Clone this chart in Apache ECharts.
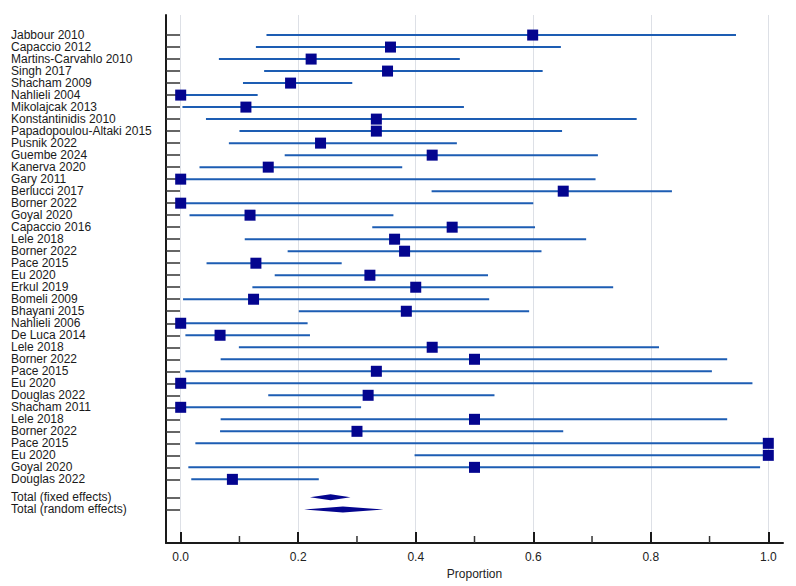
<!DOCTYPE html>
<html>
<head>
<meta charset="utf-8">
<script src="https://cdn.jsdelivr.net/npm/echarts@6/dist/echarts.min.js"></script>
<style>
  html, body { margin: 0; padding: 0; background: #fff; }
  #chart { width: 796px; height: 586px; }
</style>
</head>
<body>
<div id="chart"></div>
<script>
// Study rows, top to bottom
const studies = [
  'Jabbour 2010', 'Capaccio 2012', 'Martins-Carvahlo 2010', 'Singh 2017', 'Shacham 2009',
  'Nahlieli 2004', 'Mikolajcak 2013', 'Konstantinidis 2010', 'Papadopoulou-Altaki 2015', 'Pusnik 2022',
  'Guembe 2024', 'Kanerva 2020', 'Gary 2011', 'Berlucci 2017', 'Borner 2022',
  'Goyal 2020', 'Capaccio 2016', 'Lele 2018', 'Borner 2022', 'Pace 2015',
  'Eu 2020', 'Erkul 2019', 'Bomeli 2009', 'Bhayani 2015', 'Nahlieli 2006',
  'De Luca 2014', 'Lele 2018', 'Borner 2022', 'Pace 2015', 'Eu 2020',
  'Douglas 2022', 'Shacham 2011', 'Lele 2018', 'Borner 2022', 'Pace 2015',
  'Eu 2020', 'Goyal 2020', 'Douglas 2022'
];
const estimate = [
  0.599, 0.357, 0.222, 0.352, 0.187,
  0.0, 0.111, 0.333, 0.333, 0.238,
  0.428, 0.149, 0.0, 0.651, 0.0,
  0.118, 0.462, 0.364, 0.381, 0.128,
  0.322, 0.400, 0.124, 0.384, 0.0,
  0.067, 0.428, 0.500, 0.333, 0.0,
  0.319, 0.0, 0.500, 0.300, 1.0,
  1.0, 0.500, 0.088
];
const lower = [
  0.146, 0.128, 0.065, 0.142, 0.106,
  0.0, 0.003, 0.043, 0.100, 0.082,
  0.177, 0.032, 0.0, 0.427, 0.0,
  0.015, 0.326, 0.109, 0.182, 0.044,
  0.160, 0.122, 0.004, 0.201, 0.0,
  0.008, 0.099, 0.068, 0.008, 0.0,
  0.149, 0.0, 0.068, 0.067, 0.025,
  0.398, 0.013, 0.018
];
const upper = [
  0.945, 0.647, 0.475, 0.616, 0.292,
  0.131, 0.482, 0.776, 0.649, 0.470,
  0.710, 0.377, 0.706, 0.836, 0.600,
  0.362, 0.603, 0.690, 0.614, 0.274,
  0.523, 0.736, 0.525, 0.593, 0.216,
  0.220, 0.814, 0.930, 0.904, 0.973,
  0.534, 0.307, 0.930, 0.651, 1.0,
  1.0, 0.986, 0.235
];

// Pooled estimates
const pooledNames = ['Total (fixed effects)', 'Total (random effects)'];
const pooledEst = [0.255, 0.276];
const pooledLo = [0.220, 0.210];
const pooledHi = [0.289, 0.345];

// Axis ticks
const xTicks = [0, 0.2, 0.4, 0.6, 0.8, 1.0];
const xMinorTicks = [0.1, 0.3, 0.5, 0.7, 0.9];
const yMin = -1.67, yMax = 42.3;

// Row positions: pooled rows sit after a half-row gap
const studyPos = studies.map((_, i) => i);
const pooledPos = pooledNames.map((_, i) => studies.length + 0.5 + i);
const labelAt = {};
studyPos.forEach((p, i) => { labelAt[p] = studies[i]; });
pooledPos.forEach((p, i) => { labelAt[p] = pooledNames[i]; });
const yTickValues = studyPos.concat(pooledPos);

const chart = echarts.init(document.getElementById('chart'), null, { renderer: 'svg' });

const font = 'Arial, "Liberation Sans", sans-serif';

chart.setOption({
  animation: false,
  grid: { left: 166, right: 13, top: 15, bottom: 43, containLabel: false },
  xAxis: {
    type: 'value',
    min: -0.025,
    max: 1.025,
    position: 'bottom',
    name: 'Proportion',
    nameLocation: 'middle',
    nameGap: 25,
    nameTextStyle: { fontFamily: font, fontSize: 12, color: '#222' },
    axisLine: { show: true, onZero: false, lineStyle: { color: '#1a1a1a', width: 2 } },
    axisTick: { show: true, inside: true, length: 11, customValues: xTicks,
                lineStyle: { color: '#1a1a1a', width: 2 } },
    axisLabel: { customValues: xTicks, margin: 8, fontFamily: font, fontSize: 12, color: '#222',
                 formatter: v => v.toFixed(1) },
    splitLine: { show: false }
  },
  yAxis: {
    type: 'value',
    inverse: true,
    min: yMin,
    max: yMax,
    axisLine: { show: true, onZero: false, lineStyle: { color: '#1a1a1a', width: 2 } },
    axisTick: { show: true, inside: true, length: 14, customValues: yTickValues,
                lineStyle: { color: '#333', width: 1.5 } },
    axisLabel: {
      customValues: yTickValues,
      align: 'left',
      margin: 155,
      fontFamily: font,
      fontSize: 12,
      lineHeight: 11,
      color: '#1a1a1a',
      formatter: v => labelAt[v] || ''
    },
    splitLine: { show: false }
  },
  series: [
    {
      // vertical grid lines
      name: 'grid',
      type: 'line',
      data: [],
      markLine: {
        silent: true,
        z: 0,
        symbol: 'none',
        label: { show: false },
        lineStyle: { color: '#dde0e6', width: 1, type: 'solid' },
        data: xTicks.map(v => ({ xAxis: v }))
      }
    },
    {
      // minor ticks on the x axis, standing on its bottom line
      name: 'minorTicks',
      type: 'scatter',
      silent: true,
      symbol: 'rect',
      symbolSize: [1.5, 7],
      symbolOffset: [0, -3.5],
      itemStyle: { color: '#333', opacity: 1 },
      data: xMinorTicks.map(v => [v, yMax]),
      clip: false,
      z: 4
    },
    {
      name: 'ci',
      type: 'custom',
      data: studies.map((_, i) => [lower[i], upper[i], studyPos[i]]),
      encode: { x: [0, 1], y: 2 },
      renderItem(params, api) {
        const a = api.coord([api.value(0), api.value(2)]);
        const b = api.coord([api.value(1), api.value(2)]);
        return {
          type: 'line',
          shape: { x1: a[0], y1: a[1], x2: b[0], y2: b[1] },
          style: { stroke: '#1d5db3', lineWidth: 2 }
        };
      },
      z: 2
    },
    {
      name: 'estimate',
      type: 'scatter',
      symbol: 'rect',
      symbolSize: 11,
      itemStyle: { color: '#04058f', opacity: 1 },
      data: studies.map((_, i) => [estimate[i], studyPos[i]]),
      z: 3
    },
    {
      name: 'pooled',
      type: 'custom',
      data: pooledNames.map((_, i) => [pooledLo[i], pooledEst[i], pooledHi[i], pooledPos[i]]),
      encode: { x: [0, 2], y: 3 },
      renderItem(params, api) {
        const y = api.value(3);
        const l = api.coord([api.value(0), y]);
        const m = api.coord([api.value(1), y]);
        const r = api.coord([api.value(2), y]);
        return {
          type: 'polygon',
          shape: { points: [[l[0], l[1]], [m[0], m[1] - 3], [r[0], r[1]], [m[0], m[1] + 3]] },
          style: { fill: '#04058f' }
        };
      },
      z: 3
    }
  ]
});
</script>
</body>
</html>
